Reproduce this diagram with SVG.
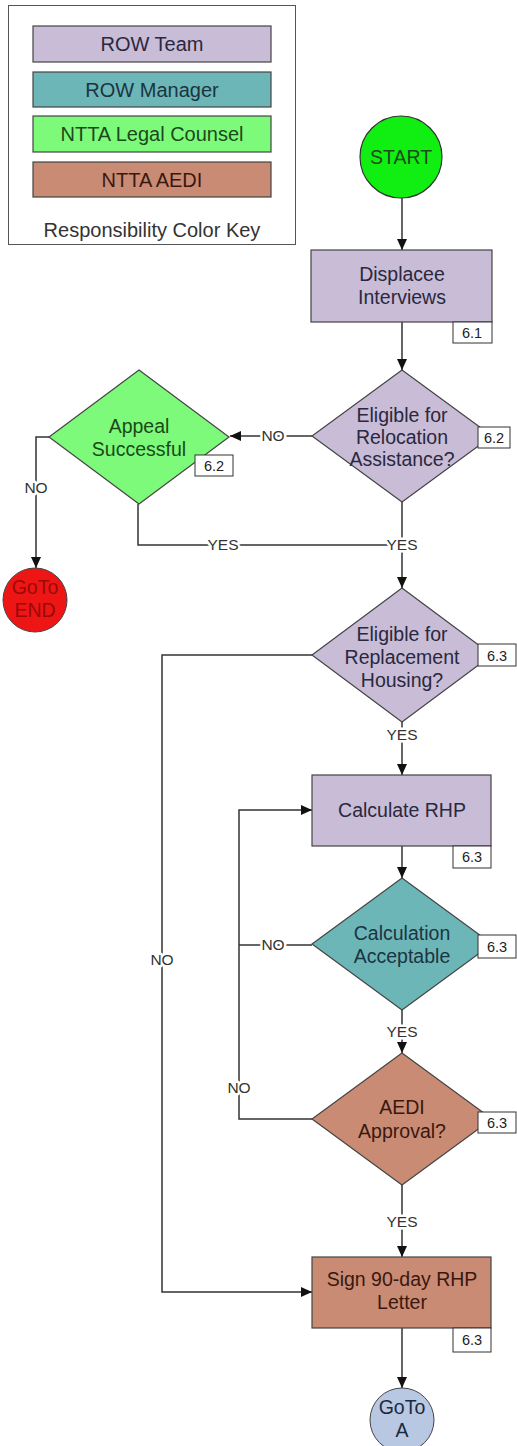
<svg xmlns="http://www.w3.org/2000/svg" width="517" height="1446" viewBox="0 0 517 1446">
<defs>
<marker id="arr" markerUnits="userSpaceOnUse" markerWidth="12" markerHeight="10" refX="11" refY="5" orient="auto">
<path d="M0,0 L11,5 L0,10 z" fill="#111"/>
</marker>
<style>
text{font-family:"Liberation Sans",Arial,sans-serif;text-anchor:middle}
.t{font-size:19.5px}
.k{font-size:20px}
.lbl{font-size:15.5px;fill:#333;paint-order:stroke;stroke:#fff;stroke-width:5px;stroke-linejoin:round}
.ref{fill:#fff;stroke:#333;stroke-width:1}
.reft{font-size:14.5px;fill:#222}
.con{fill:none;stroke:#333;stroke-width:1.5}
.purple{fill:#c8bcd6;stroke:#444;stroke-width:1.2}
.teal{fill:#6cb6b8;stroke:#444;stroke-width:1.2}
.green{fill:#7dfa7a;stroke:#444;stroke-width:1.2}
.brown{fill:#c98b74;stroke:#444;stroke-width:1.2}
</style>
</defs>
<rect width="517" height="1446" fill="#fff"/>

<g id="legend">
<rect x="8.5" y="5.5" width="287" height="239" fill="#fff" stroke="#555" stroke-width="1"/>
<rect x="33" y="26" width="238" height="36" class="purple"/>
<text x="152" y="51" class="k" fill="#2a2840">ROW Team</text>
<rect x="33" y="72" width="238" height="35" class="teal"/>
<text x="152" y="97" class="k" fill="#1c3440">ROW Manager</text>
<rect x="33" y="116" width="238" height="36" class="green"/>
<text x="152" y="141" class="k" fill="#1a4a1a">NTTA Legal Counsel</text>
<rect x="33" y="162" width="238" height="35" class="brown"/>
<text x="152" y="187" class="k" fill="#3a1810">NTTA  AEDI</text>
<text x="152" y="237" class="k" fill="#333">Responsibility Color Key</text>
</g>

<g id="connectors">
<path class="con" d="M402,198 V250" marker-end="url(#arr)"/>
<path class="con" d="M402,322 V370" marker-end="url(#arr)"/>
<path class="con" d="M312,436 H230" marker-end="url(#arr)"/>
<path class="con" d="M49,437 H36 V568" marker-end="url(#arr)"/>
<path class="con" d="M138,504 V545 H402"/>
<path class="con" d="M402,502 V588" marker-end="url(#arr)"/>
<path class="con" d="M312,655 H162 V1292 H312" marker-end="url(#arr)"/>
<path class="con" d="M402,722 V775" marker-end="url(#arr)"/>
<path class="con" d="M402,846 V878" marker-end="url(#arr)"/>
<path class="con" d="M312,1119 H239 V810 H312" marker-end="url(#arr)"/>
<path class="con" d="M312,945 H239"/>
<path class="con" d="M402,1010 V1053" marker-end="url(#arr)"/>
<path class="con" d="M402,1185 V1257" marker-end="url(#arr)"/>
<path class="con" d="M402,1328 V1388" marker-end="url(#arr)"/>
<text class="lbl" x="273" y="441">NO</text>
<text class="lbl" x="36" y="493">NO</text>
<text class="lbl" x="223" y="550">YES</text>
<text class="lbl" x="402" y="550">YES</text>
<text class="lbl" x="162" y="965">NO</text>
<text class="lbl" x="402" y="740">YES</text>
<text class="lbl" x="273" y="950">NO</text>
<text class="lbl" x="239" y="1093">NO</text>
<text class="lbl" x="402" y="1037">YES</text>
<text class="lbl" x="402" y="1227">YES</text>
</g>

<g id="start">
<circle cx="401" cy="157" r="41" fill="#11ee11" stroke="#333" stroke-width="1.2"/>
<text x="401" y="164" class="t" fill="#1e4a1e">START</text>
</g>

<g id="displacee">
<rect x="311" y="250" width="181" height="72" class="purple"/>
<text x="402" y="281" class="t" fill="#2a2840">Displacee</text>
<text x="402" y="304" class="t" fill="#2a2840">Interviews</text>
<rect x="453" y="322" width="39" height="21" class="ref"/>
<text x="472" y="338" class="reft">6.1</text>
</g>

<g id="relocation">
<polygon points="402,370 492,436 402,502 312,436" class="purple"/>
<text x="402" y="422" class="t" fill="#2a2840">Eligible for</text>
<text x="402" y="444" class="t" fill="#2a2840">Relocation</text>
<text x="402" y="466" class="t" fill="#2a2840">Assistance?</text>
<rect x="478" y="427" width="32" height="21" class="ref"/>
<text x="494" y="443" class="reft">6.2</text>
</g>

<g id="appeal">
<polygon points="139,370 229,437 139,504 49,437" class="green"/>
<text x="139" y="433" class="t" fill="#1a4a1a">Appeal</text>
<text x="139" y="456" class="t" fill="#1a4a1a">Successful</text>
<rect x="195" y="455" width="38" height="21" class="ref"/>
<text x="214" y="471" class="reft">6.2</text>
</g>

<g id="gotoend">
<circle cx="35" cy="600" r="32" fill="#ee1515" stroke="#444" stroke-width="1"/>
<text x="35" y="594" class="t" fill="#9a0a0a">GoTo</text>
<text x="35" y="617" class="t" fill="#9a0a0a">END</text>
</g>

<g id="replacement">
<polygon points="402,588 492,655 402,722 312,655" class="purple"/>
<text x="402" y="641" class="t" fill="#2a2840">Eligible for</text>
<text x="402" y="664" class="t" fill="#2a2840">Replacement</text>
<text x="402" y="687" class="t" fill="#2a2840">Housing?</text>
<rect x="478" y="644" width="38" height="22" class="ref"/>
<text x="497" y="661" class="reft">6.3</text>
</g>

<g id="calcrhp">
<rect x="312" y="775" width="179" height="71" class="purple"/>
<text x="402" y="817" class="t" fill="#2a2840">Calculate RHP</text>
<rect x="453" y="846" width="38" height="22" class="ref"/>
<text x="472" y="862" class="reft">6.3</text>
</g>

<g id="calcacceptable">
<polygon points="402,878 492,944 402,1010 312,944" class="teal"/>
<text x="402" y="940" class="t" fill="#1c3440">Calculation</text>
<text x="402" y="963" class="t" fill="#1c3440">Acceptable</text>
<rect x="478" y="935" width="38" height="23" class="ref"/>
<text x="497" y="952" class="reft">6.3</text>
</g>

<g id="aedi">
<polygon points="402,1053 492,1119 402,1185 312,1119" class="brown"/>
<text x="402" y="1114" class="t" fill="#3a1810">AEDI</text>
<text x="402" y="1138" class="t" fill="#3a1810">Approval?</text>
<rect x="478" y="1112" width="38" height="21" class="ref"/>
<text x="497" y="1128" class="reft">6.3</text>
</g>

<g id="sign">
<rect x="312" y="1257" width="179" height="71" class="brown"/>
<text x="402" y="1286" class="t" fill="#3a1810">Sign 90-day RHP</text>
<text x="402" y="1309" class="t" fill="#3a1810">Letter</text>
<rect x="453" y="1328" width="38" height="24" class="ref"/>
<text x="472" y="1345" class="reft">6.3</text>
</g>

<g id="gotoa">
<circle cx="402" cy="1420" r="32" fill="#b8c8e2" stroke="#444" stroke-width="1"/>
<text x="402" y="1414" class="t" fill="#1c2840">GoTo</text>
<text x="402" y="1437" class="t" fill="#1c2840">A</text>
</g>
</svg>
